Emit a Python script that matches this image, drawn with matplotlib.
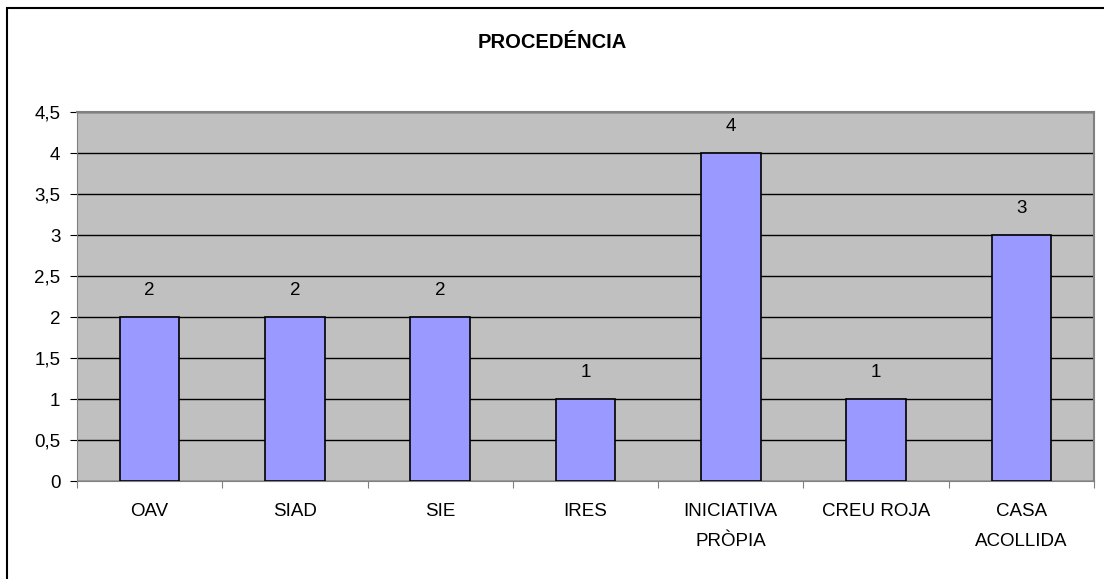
import matplotlib
matplotlib.use("Agg")
import matplotlib.pyplot as plt
from matplotlib.patches import Rectangle
from matplotlib.ticker import FuncFormatter, MultipleLocator

categories = ["OAV", "SIAD", "SIE", "IRES", "INICIATIVA\nPRÒPIA", "CREU ROJA", "CASA\nACOLLIDA"]
values = [2, 2, 2, 1, 4, 1, 3]
title = "PROCEDÉNCIA"

plt.rcParams["font.family"] = ["Liberation Sans", "DejaVu Sans"]

fig = plt.figure(figsize=(11.04, 5.79), dpi=100)
W, H = 1104, 579

# outer chart frame
fig.patches.append(Rectangle((7 / W, -0.05), 1.2, 1 - 8 / H + 0.05,
                             transform=fig.transFigure, fill=False,
                             edgecolor="black", linewidth=1.5))

left, right, top, bottom = 77, 1094, 112, 481
ax = fig.add_axes([left / W, 1 - bottom / H, (right - left) / W, (bottom - top) / H])
ax.set_facecolor("#C0C0C0")

x = list(range(len(categories)))
bars = ax.bar(x, values, width=0.41, color="#9999FF", edgecolor="black",
              linewidth=1.2, zorder=3)

for xi, v in zip(x, values):
    ax.annotate(str(v), (xi, v), xytext=(0, 13), textcoords="offset points",
                ha="center", va="bottom", fontsize=13.5)

ax.set_xlim(-0.5, len(categories) - 0.5)
ax.set_ylim(0, 4.5)
ax.yaxis.set_major_locator(MultipleLocator(0.5))
ax.yaxis.set_major_formatter(FuncFormatter(lambda v, p: f"{v:g}".replace(".", ",")))
ax.grid(axis="y", color="black", linewidth=1.0, zorder=1)
ax.set_axisbelow(True)

ax.set_xticks([i + 0.5 for i in range(-1, len(categories))], minor=False)
ax.set_xticklabels([])
ax.set_xticks(x, minor=True)
ax.set_xticklabels(categories, minor=True, fontsize=13.5, linespacing=2.0)
ax.tick_params(axis="x", which="major", length=5, direction="out", color="#808080")
ax.tick_params(axis="x", which="minor", length=0, pad=15.5)
ax.tick_params(axis="y", length=5, direction="out", pad=7, labelsize=13.5, color="black")

for side in ["top", "right"]:
    ax.spines[side].set_color("#808080")
    ax.spines[side].set_linewidth(1.5)
ax.spines["left"].set_color("#808080")
ax.spines["bottom"].set_color("#808080")

fig.text(0.5, 1 - 42 / H, title, ha="center", va="center",
         fontsize=14.5, fontweight="bold")

fig.savefig("out.png", dpi=100)
